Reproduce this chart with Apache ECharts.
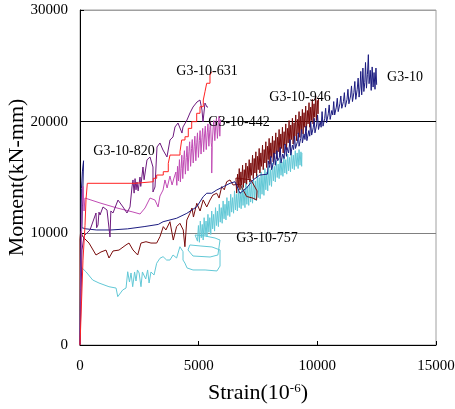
<!DOCTYPE html>
<html>
<head>
<meta charset="utf-8">
<script src="https://cdn.jsdelivr.net/npm/echarts@6/dist/echarts.min.js"></script>
<style>html,body{margin:0;padding:0;background:#fff;}#c{width:455px;height:409px;}</style>
</head>
<body>
<div id="c"></div>
<script>
// ---- data (strain 10^-6, moment kN-mm) ----
const xTicks = [0, 5000, 10000, 15000];
const yTicks = [0, 10000, 20000, 30000];
const seriesNames = ['G3-10', 'G3-10-946', 'G3-10-757', 'G3-10-442', 'G3-10-820', 'G3-10-631'];

const g3_10 = [[0,0],[20,5800],[40,10000],[60,14000],[100,15500],[150,16500],[110,13000],[80,10500],[250,10400],[700,10300],[1300,10300],[2000,10400],[2700,10600],[3300,10800],[3500,11040],[4070,11350],[4500,11790],[4920,12380],[5190,13280],[5340,13590],[5550,13590],[5760,13880],[6040,14180],[6320,14480],[6530,14620],[6740,13590],[7020,14060],[7290,14780],[7580,15220],
[7900,15300],[7930,16500],[7990,15900],[8040,16900],[8070,15700],[8150,16300],[8180,17200],[8230,16100],[8300,17400],[8330,16500],[8400,16800],[8440,17700],[8470,16300],[8540,17100],[8600,16700],[8640,18000],[8700,16900],[8720,17700],[8790,17200],[8850,18400],[8880,17000],[8950,17900],[9000,17500],[9040,18700],[9080,17600],[9160,18200],[9200,19000],[9230,17800],[9300,18500],[9340,19300],[9370,18100],[9440,18900],[9480,18400],[9520,19600],[9560,18300],[9640,19200],[9680,18700],[9720,20000],[9760,18800],[9830,19500],[9870,20300],[9900,19000],[9970,19700],[10010,20600],[10050,19300],[10120,20000],[10160,19500],[10200,20900],[10240,19600],[10310,20300],[10350,21200],[10390,19900],[10460,20700],[10500,21500],[10540,20200],[10610,21000],[10650,20600],[10690,21800],[10730,20600],[10800,21300],[10840,22100],[10880,20900],[10950,21600],[10990,22300],[11030,21200],[11100,21800],[11140,22600],[11180,21300],[11250,22000],[11290,22900],[11330,21600],[11400,22300],[11440,23200],[11480,21800],[11540,22600],[11580,23600],[11620,22000],[11680,22900],[11720,23900],[11760,22200],[11800,23100],[11830,24500],[11870,22400],[11920,24800],[11960,22700],[12000,23500],[12030,25300],[12070,23000],[12110,24200],[12150,26000],[12180,23400],[12230,24600],[12270,22800],[12310,24900],[12350,23100],[12390,24400],[12430,22900],[12470,24800],[12500,23300]];

const g3_10_946 = [[0,0],[0,9500],[30,10200],[114,9700],[380,9130],[674,8060],[885,8330],[1095,8500],[1222,7790],[1390,8420],[1643,8500],[1938,8960],[2064,9130],[2233,8510],[2431,8060],[2570,9130],[2780,9250],[2990,9130],[3230,9130],[3370,9700],[3510,10600],[3620,10300],[3790,11040],[3930,9400],[4070,10600],[4210,10900],[4350,10300],[4420,8800],[4500,11190],[4630,11790],[4720,12270],[4780,11460],[4920,12690],[5060,12000],[5190,12990],[5340,12360],[5480,12990],[5600,13430],[5760,13590],[5860,13160],[5970,14180],[6080,13900],[6180,14620],[6320,14780],[6450,14330],[6740,14400],[7020,13300],[7290,13150],[7440,13000],[7460,13800],[7200,14800],[6570,14950],
[6600,13600],[6640,15300],[6670,14100],[6710,15800],[6740,13900],[6780,15500],[6810,14300],[6850,16100],[6880,14100],[6920,15700],[6950,14500],[6990,16300],[7020,14400],[7060,16000],[7090,14900],[7130,16600],[7160,14600],[7200,16300],[7230,15200],[7270,17000],[7300,14900],[7340,16700],[7370,15400],[7410,17300],[7440,15100],[7480,16900],[7510,15700],[7550,17600],[7580,15400],[7620,17200],[7650,16000],[7690,17900],[7720,15700],[7760,17500],[7790,16300],[7830,18200],[7860,15900],[7900,17800],[7930,16600],[7970,18500],[8000,16200],[8040,18100],[8070,16800],[8110,18700],[8140,16400],[8180,18300],[8210,17100],[8250,19000],[8280,16700],[8320,18600],[8350,17300],[8390,19300],[8420,17000],[8460,18900],[8490,17600],[8530,19500],[8560,17200],[8600,19100],[8630,17900],[8670,19800],[8700,17500],[8740,19400],[8770,18100],[8810,20100],[8840,17800],[8880,19700],[8910,18400],[8950,20300],[8980,18000],[9020,19900],[9050,18700],[9090,20600],[9120,18300],[9160,20200],[9190,18900],[9230,20900],[9260,18600],[9300,20500],[9330,19200],[9370,21100],[9400,18900],[9440,20800],[9470,19500],[9510,21400],[9540,19200],[9580,21000],[9610,19800],[9650,21700],[9680,19500],[9720,21300],[9750,20100],[9790,22000],[9820,19800],[9860,21600],[9890,20400],[9930,22300],[9960,20100],[10000,21900],[10030,20700],[10050,22100]];

const g3_10_757 = [[0,0],[20,4000],[40,7000],[250,6560],[535,5820],[800,5550],[1220,5220],[1520,5100],[1590,4330],[1640,4210],[1800,4930],[1940,5100],[2010,6560],[2085,5640],[2150,6450],[2220,5220],[2300,6540],[2360,5730],[2420,6720],[2490,6450],[2570,5220],[2630,6540],[2700,6560],[2770,5910],[2850,6720],[2910,5550],[2990,6540],[3120,6270],[3230,7320],[3370,7770],[3500,7910],[3650,7610],[3790,7610],[3920,8060],[4070,7790],[4210,8800],[4340,8360],[4340,7610],[4420,7340],[4510,6900],[4760,6720],[5270,6720],[5770,6630],[5900,7070],[5900,8510],[5560,8780],[5060,8870],[4630,8960],[4550,8510],[4760,7970],[5480,7880],[5810,8060],[5900,9400],[5690,9580],[5270,9760],[4850,9850],
[4950,9300],[4990,10700],[5030,9200],[5070,11100],[5110,9600],[5150,10800],[5190,9400],[5230,11400],[5270,9800],[5310,11100],[5350,9700],[5390,11700],[5430,10100],[5470,11400],[5510,9900],[5550,12000],[5590,10400],[5630,11700],[5670,10200],[5710,12300],[5750,10700],[5790,12000],[5830,10600],[5870,12600],[5910,11000],[5950,12300],[5990,10900],[6030,12900],[6070,11300],[6110,12600],[6150,11200],[6190,13200],[6230,11600],[6270,12900],[6310,11500],[6350,13500],[6390,11900],[6430,13200],[6470,11800],[6510,13800],[6550,12100],[6590,13500],[6630,12000],[6670,14000],[6710,12300],[6750,13700],[6790,12200],[6830,14300],[6870,12500],[6910,14000],[6950,12300],[6990,14500],[7030,12600],[7070,14200],[7110,12500],[7150,14800],[7190,12800],[7230,14500],[7270,12700],[7310,15000],[7350,13000],[7390,14700],[7430,12900],[7470,15300],[7510,13200],[7550,15000],[7590,13100],[7630,15500],[7670,13500],[7710,15200],[7750,13400],[7790,15800],[7830,13900],[7870,15500],[7910,13800],[7950,16000],[7990,14300],[8030,15700],[8070,14200],[8110,16300],[8150,14700],[8190,16000],[8230,14600],[8270,16500],[8310,15000],[8350,16200],[8390,14900],[8430,16700],[8470,15200],[8510,16400],[8550,15100],[8590,16900],[8630,15400],[8670,16600],[8710,15300],[8750,17100],[8790,15600],[8830,16800],[8870,15500],[8910,17300],[8950,15800],[8990,17000],[9030,15700],[9070,17400],[9110,16000],[9150,17200],[9190,15800],[9230,17500],[9270,16100],[9310,17300],[9340,16000],[9350,17200]];

const g3_10_442 = [[0,0],[30,5000],[60,9400],[90,12500],[130,14200],[170,12000],[210,13160],[843,12720],[1560,12270],[2230,11910],[2530,11730],[2740,12270],[2950,13160],[3160,12980],[3290,12360],[3370,13340],[3500,13880],[3580,14780],[3670,14060],[3790,15130],[3880,14330],[3960,14950],[4040,15490],
[4080,14300],[4110,16000],[4150,14700],[4190,16600],[4230,14600],[4260,15800],[4290,17000],[4330,14900],[4370,16600],[4400,17400],[4440,15300],[4480,16800],[4510,17800],[4550,15600],[4590,17300],[4620,18200],[4660,16000],[4700,17600],[4730,18400],[4770,16300],[4810,17800],[4840,18700],[4880,16500],[4920,18100],[4950,19000],[4990,16800],[5030,18300],[5060,19200],[5100,17100],[5140,18600],[5170,19400],[5210,17300],[5250,18900],[5280,19600],[5320,17500],[5360,19000],[5390,19800],[5430,17800],[5470,19300],[5500,20000],[5530,18100],[5550,17700],[5550,15400],[5570,18000],[5610,19500],[5640,20100],[5680,18300],[5720,19700],[5750,20300],[5790,18500],[5830,19900],[5860,20500],[5890,18700],[5920,20200]];

const g3_10_820 = [[0,0],[42,4030],[84,8510],[169,9760],[421,10300],[674,11820],[700,10500],[758,10750],[800,11900],[843,11640],[969,12360],[1138,12090],[1264,9670],[1300,12000],[1390,11820],[1601,12980],[1812,12360],[1980,11820],[2107,12360],[2191,14150],[2233,14780],[2280,13600],[2320,14900],[2360,13900],[2401,14600],[2450,13800],[2528,15040],[2560,14200],[2654,15940],[2700,14800],[2823,16570],[2949,16840],[3075,15940],[3075,13700],[3160,14150],[3244,17730],[3370,18090],[3497,17460],[3665,16840],[3792,18360],[3918,18630],[4002,19520],[4129,19880],[4297,18980],[4339,19520],[4508,20150],[4634,20780],[4761,21310],[4929,21760],[5056,21940],[5140,21040],[5182,19970],[5266,21670],[5350,21310],[5393,21310]];

const g3_10_631 = [[0,0],[126,7600],[211,10700],[253,13000],[290,13000],[308,14480],[2317,14480],[2389,14620],[3088,14620],[3088,14930],[3231,14930],[3231,15220],[3509,15220],[3509,15520],[3720,15520],[3720,16270],[3792,16270],[3792,17010],[4213,17010],[4213,17310],[4285,17310],[4285,18360],[4424,18360],[4424,18650],[4563,18650],[4563,19400],[4706,19400],[4706,20000],[4917,20000],[4917,20750],[5056,20750],[5056,21340],[5195,21340],[5195,21940],[5266,21940],[5266,22680],[5338,22680],[5338,23440],[5477,23440],[5477,24180],[5549,24180],[5549,24470]];

const seriesColors = {'G3-10':'#1c1c80','G3-10-946':'#7a0c0c','G3-10-757':'#62c8d6','G3-10-442':'#c04cb4','G3-10-820':'#6e1a7e','G3-10-631':'#ff2222'};
const seriesData = {'G3-10':g3_10,'G3-10-946':g3_10_946,'G3-10-757':g3_10_757,'G3-10-442':g3_10_442,'G3-10-820':g3_10_820,'G3-10-631':g3_10_631};
const drawOrder = ['G3-10-757','G3-10-946','G3-10','G3-10-442','G3-10-820','G3-10-631'];

// label placements (pixel centers)
const labelPos = {'G3-10-631':[207,71],'G3-10-820':[124,151],'G3-10-442':[239,122],'G3-10-946':[300,97],'G3-10':[405,77],'G3-10-757':[267,238]};

const SERIF = '"Liberation Serif","Times New Roman",serif';
const chart = echarts.init(document.getElementById('c'), null, {renderer:'canvas'});
chart.setOption({
  animation:false,
  backgroundColor:'#fff',
  grid:{left:80,right:19,top:10,bottom:64,containLabel:false,outerBoundsMode:'none',show:true,borderColor:'#a0a0a0',borderWidth:1},
  xAxis:{type:'value',min:xTicks[0],max:xTicks[xTicks.length-1],interval:5000,
    name:'Strain(10{sup|-6})',nameLocation:'middle',nameGap:37,nameMoveOverlap:false,
    nameTextStyle:{fontFamily:SERIF,fontSize:22,color:'#000',rich:{sup:{fontFamily:SERIF,fontSize:13,color:'#000',verticalAlign:'top',padding:[0,0,10,0]}}},
    axisLine:{lineStyle:{color:'#000',width:1}},
    axisTick:{inside:true,length:4,lineStyle:{color:'#000'}},
    splitLine:{show:false},
    axisLabel:{fontFamily:SERIF,fontSize:15,color:'#000',margin:14,formatter:v=>String(v)}},
  yAxis:{type:'value',min:yTicks[0],max:yTicks[yTicks.length-1],interval:10000,
    name:'Moment(kN-mm)',nameLocation:'middle',nameGap:52,nameMoveOverlap:false,
    nameTextStyle:{fontFamily:SERIF,fontSize:22,color:'#000'},
    axisLine:{show:true,lineStyle:{color:'#000',width:1}},
    axisTick:{show:true,inside:true,length:4,lineStyle:{color:'#000'}},
    splitLine:{show:true,lineStyle:{color:['#000','#808080','#000','#a0a0a0'],width:1}},
    axisLabel:{fontFamily:SERIF,fontSize:15,color:'#000',margin:12,formatter:v=>String(v)}},
  series: drawOrder.map(n=>({name:n,type:'line',data:seriesData[n],showSymbol:false,symbol:'none',
    lineStyle:{color:seriesColors[n],width:1},itemStyle:{color:seriesColors[n]},z:3})),
  graphic: seriesNames.map(n=>({type:'text',x:labelPos[n][0],y:labelPos[n][1],z:100,
    style:{text:n,fontFamily:SERIF,fontSize:14,fill:'#000',align:'center',verticalAlign:'middle'}}))
});
</script>
</body>
</html>
